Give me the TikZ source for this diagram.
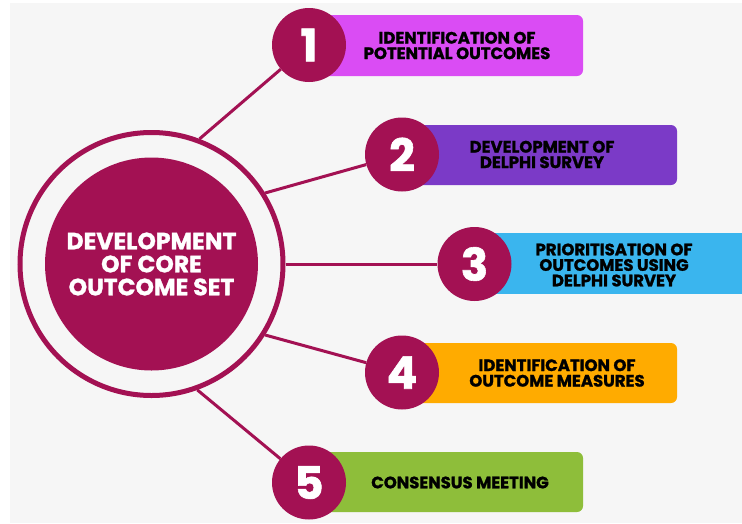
\documentclass[tikz,border=0pt]{standalone}
\usepackage{fontspec}
\setmainfont{Poppins}[BoldFeatures={FakeBold=1.3}]
\definecolor{maroon}{HTML}{A31153}
\definecolor{bg}{HTML}{F6F6F6}
\definecolor{cmag}{HTML}{DA4CF4}
\definecolor{cpur}{HTML}{7B3AC7}
\definecolor{cblue}{HTML}{3AB5EE}
\definecolor{corange}{HTML}{FFAB00}
\definecolor{cgreen}{HTML}{8EBE3A}
\tikzset{
  numcirc/.style={circle, fill=maroon, minimum size=74pt, inner sep=0pt, text=white, font=\bfseries\fontsize{45}{45}\selectfont},
  boxlabel/.style={align=center, text=black, font=\bfseries\fontsize{16.5}{15.5}\selectfont},
  conn/.style={draw=maroon, line width=3pt},
  stepfill/.style={rounded corners=6pt}
}
\begin{document}
\begin{tikzpicture}[x=1pt,y=-1pt]
\useasboundingbox (0,0) rectangle (742,523);
\fill[white] (0,0) rectangle (742,523);
\fill[bg] (10,3) rectangle (742,523);
% main circle
\node[circle, draw=maroon, line width=5pt, minimum size=263pt, inner sep=0pt] (ring) at (151.5,264) {};
\node[circle, fill=maroon, minimum size=213pt, inner sep=0pt, align=center, text=white, font=\bfseries\fontsize{23.5}{23}\selectfont] (main) at (151.5,264) {DEVELOPMENT\\OF CORE\\OUTCOME SET};
% boxes
\fill[cmag, stepfill] (309,15) rectangle (583,76);
\fill[cpur, stepfill] (402,125) rectangle (677,185);
\fill[cblue] (474,233) rectangle (742,294);
\fill[corange, stepfill] (402,343) rectangle (677,403);
\fill[cgreen, stepfill] (309,452) rectangle (583,512);
\node[boxlabel] (b1) at (457,45.5) {IDENTIFICATION OF\\POTENTIAL OUTCOMES};
\node[boxlabel] (b2) at (542,154.5) {DEVELOPMENT OF\\DELPHI SURVEY};
\node[boxlabel] (b3) at (614,265) {PRIORITISATION OF\\OUTCOMES USING\\DELPHI SURVEY};
\node[boxlabel] (b4) at (557,373) {IDENTIFICATION OF\\OUTCOME MEASURES};
\node[boxlabel] (b5) at (460,482.5) {CONSENSUS MEETING};
% number circles
\node[numcirc] (n1) at (309,45) {1};
\node[numcirc] (n2) at (402,154.5) {2};
\node[numcirc] (n3) at (474.5,264) {3};
\node[numcirc] (n4) at (402,372.5) {4};
\node[numcirc] (n5) at (309,482.5) {5};
% connectors
\draw[conn] (ring.69) -- (n1);
\draw[conn] (ring.32) -- (n2);
\draw[conn] (ring.0) -- (n3);
\draw[conn] (ring.-32) -- (n4);
\draw[conn] (ring.-70) -- (n5);
\end{tikzpicture}
\end{document}
